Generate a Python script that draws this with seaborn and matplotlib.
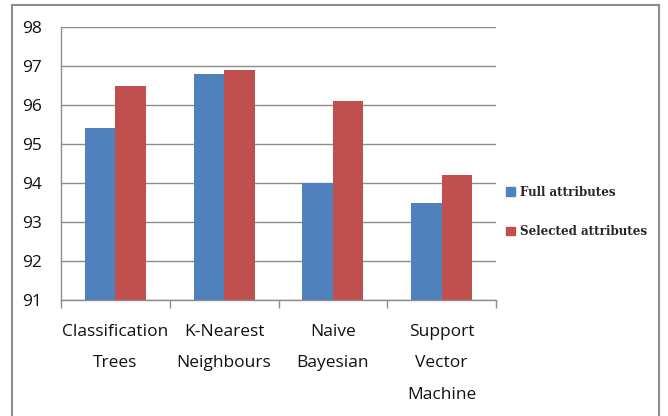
import matplotlib
matplotlib.use("Agg")
import matplotlib.pyplot as plt
import seaborn as sns
import pandas as pd
from matplotlib.patches import Rectangle

categories = ["Classification\nTrees", "K-Nearest\nNeighbours", "Naive\nBayesian", "Support\nVector\nMachine"]
full_attributes = [95.4, 96.8, 94.0, 93.5]
selected_attributes = [96.5, 96.9, 96.1, 94.2]
series_names = ["Full attributes", "Selected attributes"]
y_ticks = [91, 92, 93, 94, 95, 96, 97, 98]

df = pd.DataFrame({
    "category": categories * 2,
    "value": full_attributes + selected_attributes,
    "series": [series_names[0]] * 4 + [series_names[1]] * 4,
})

sns.set_style("white")
plt.rcParams["font.family"] = ["Open Sans", "DejaVu Sans"]

fig = plt.figure(figsize=(6.68, 4.16), dpi=100)
ax = fig.add_axes([61 / 668, 1 - 300 / 416, (496 - 61) / 668, (300 - 27) / 416])

palette = {series_names[0]: "#4F81BD", series_names[1]: "#C0504D"}
sns.barplot(data=df, x="category", y="value", hue="series", palette=palette,
            width=0.56, ax=ax, saturation=1, legend=True, linewidth=0)

ax.set_ylim(91, 98)
ax.set_yticks(y_ticks)
ax.set_xlim(-0.5, 3.5)
ax.set_xlabel("")
ax.set_ylabel("")

grid_c = "#8C8C8C"
ax.yaxis.grid(True, color=grid_c, lw=1)
ax.set_axisbelow(True)
for s in ["top", "right"]:
    ax.spines[s].set_visible(False)
for s in ["left", "bottom"]:
    ax.spines[s].set_color(grid_c)
    ax.spines[s].set_linewidth(1)

# x ticks at category boundaries
ax.set_xticks([-0.5, 0.5, 1.5, 2.5, 3.5], minor=True)
ax.tick_params(axis="x", which="minor", length=6, color=grid_c, width=1, direction="out", bottom=True)
ax.tick_params(axis="x", which="major", length=0, pad=17, labelsize=12.5, labelcolor="#111111")
ax.tick_params(axis="y", length=4, color=grid_c, width=1, direction="out", pad=10,
               labelsize=12.5, labelcolor="#111111")
for lbl in ax.get_xticklabels():
    lbl.set_linespacing(2.3)
    lbl.set_va("top")

ax.get_legend().remove()
handles = [Rectangle((0, 0), 1, 1, color=palette[n]) for n in series_names]
fig.legend(handles, series_names, loc="center left", bbox_to_anchor=(506 / 668, 1 - 212 / 416),
           frameon=False, borderpad=0, borderaxespad=0, handlelength=0.75, handleheight=0.75,
           handletextpad=0.4, labelspacing=2.2,
           prop={"family": "DejaVu Serif", "weight": "bold", "size": 8.6})

fig.patches.append(Rectangle((12 / 668, -0.02), (659 - 12) / 668, 1 - 5 / 416 + 0.02,
                             transform=fig.transFigure, fill=False, edgecolor="#8C8C8C", lw=1.5))

fig.savefig("out.png", dpi=100)
